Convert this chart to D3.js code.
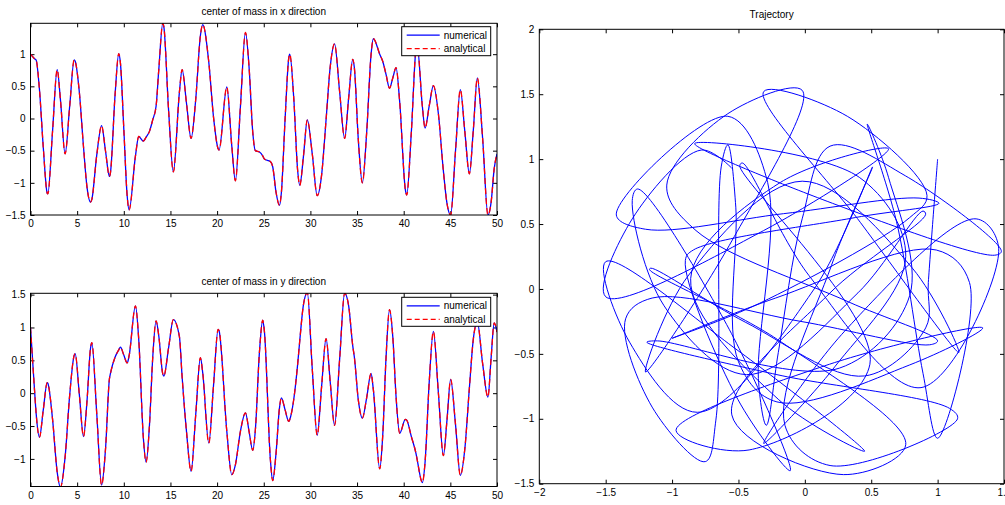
<!DOCTYPE html>
<html><head><meta charset="utf-8">
<script src="https://cdn.jsdelivr.net/npm/d3@7"></script>
<style>
html,body{margin:0;padding:0;background:#fff;}
svg{display:block;font-family:"Liberation Sans",Arial,sans-serif;}
</style></head>
<body><svg id="chart" width="1005" height="505"></svg>
<script>
// time samples
const tVals = [0,0.43,0.6,0.96,1.37,1.79,1.86,2.36,2.86,3.21,3.71,4.2,4.68,4.79,5.24,5.68,6.05,6.43,6.57,7.1,7.62,8.04,8.46,8.57,9.07,9.46,9.64,10.0,10.36,10.57,11.25,11.6,12.1,12.39,12.75,13.1,13.46,13.75,14.18,14.29,14.8,15.31,15.96,16.25,16.73,17.21,17.71,18.21,18.46,19.11,19.61,20.11,20.21,21.04,21.57,21.96,22.5,23.04,23.43,23.82,24.1,24.54,24.89,25.07,25.71,25.96,26.32,26.68,26.89,27.28,27.68,27.79,28.21,28.64,28.86,29.26,29.67,30.2,30.73,31.2,31.68,32.13,32.59,33.13,33.67,34.1,34.54,34.71,35.14,35.57,36.03,36.5,36.75,37.43,37.75,38.1,38.48,38.83,39.18,39.57,40.18,40.32,40.82,41.32,41.43,42.0,42.29,42.74,43.18,43.72,44.25,44.64,45.03,45.55,46.07,46.55,47.04,47.46,47.89,48.46,49.03,49.37,49.7,50];
// center of mass, x direction
const xVals = [1.0,0.93,0.91,0.45,-0.45,-1.16,-1.17,-0.205,0.76,0.29,-0.55,0.19,0.91,0.89,0.40,-0.44,-1.06,-1.30,-1.26,-0.57,-0.11,-0.505,-0.90,-0.84,0.38,1.01,0.86,-0.16,-1.20,-1.42,-0.58,-0.28,-0.35,-0.29,-0.20,-0.02,0.19,0.76,1.48,1.43,0.13,-0.83,0.41,0.76,0.225,-0.31,0.30,1.29,1.46,0.875,0.03,-0.47,-0.49,0.49,-0.42,-0.97,0.185,1.34,0.79,-0.21,-0.50,-0.52,-0.58,-0.63,-0.67,-0.75,-1.15,-1.35,-1.15,-0.03,0.94,1.0,0.33,-0.82,-1.04,-0.58,-0.02,-0.55,-1.2,-0.88,-0.02,0.81,1.16,0.42,-0.31,0.32,0.92,0.79,-0.34,-1.0,-0.22,0.99,1.24,1.0,0.89,0.69,0.47,0.63,0.79,0.26,-1.11,-1.19,-0.21,1.09,1.15,0.19,-0.15,0.20,0.51,0.07,-0.81,-1.32,-1.5,-0.51,0.45,-0.20,-0.86,-0.185,0.63,-0.31,-1.5,-1.3,-0.78,-0.55];
// center of mass, y direction
const yVals = [1.0,0.05,-0.3,-0.67,-0.255,0.16,0.15,-0.39,-1.20,-1.43,-0.97,-0.03,0.575,0.60,-0.03,-0.66,-0.13,0.68,0.77,-0.31,-1.40,-0.85,0.22,0.30,0.55,0.66,0.70,0.58,0.46,0.57,1.33,0.82,-0.69,-1.05,-0.49,0.54,1.10,0.87,0.29,0.26,0.69,1.12,0.86,0.25,-0.6,-1.19,-0.325,0.54,0.31,-0.76,0.105,0.97,0.95,-0.58,-1.24,-1.09,-0.58,-0.30,-0.585,-0.87,-0.56,0.63,1.11,0.94,-1.01,-1.33,-0.91,-0.23,-0.07,-0.25,-0.43,-0.40,-0.10,0.45,0.80,1.35,1.53,0.37,-0.64,0.10,0.83,0.16,-0.49,0.51,1.52,1.33,0.72,0.55,-0.11,-0.38,-0.07,0.30,0.05,-1.15,-0.65,0.52,1.27,0.86,-0.05,-0.61,-0.40,-0.41,-0.66,-0.92,-1.0,-1.36,-1.05,0.18,0.94,0.0,-0.95,-0.41,0.21,-0.47,-1.25,-0.85,0.08,0.82,1.08,0.45,-0.06,0.54,1.07,0.93];

const timeTicks = [0,5,10,15,20,25,30,35,40,45,50];
const xDirTicks = [-1.5,-1,-0.5,0,0.5,1];
const yDirTicks = [-1,-0.5,0,0.5,1,1.5];
const trajXTicks = [-2,-1.5,-1,-0.5,0,0.5,1,1.5];
const trajYTicks = [-1.5,-1,-0.5,0,0.5,1,1.5,2];
const legendLabels = ["numerical","analytical"];
const titles = ["center of mass in x direction","center of mass in y direction","Trajectory"];

const svg = d3.select("#chart");
svg.append("rect").attr("width",1005).attr("height",505).attr("fill","#fff");
const fmt = v => (v<0?"\u2212":"") + Math.abs(v);
const FS = 10;

function frame(g, x, y, xTicks, yTicks, id){
  const [x0,x1] = x.range(), [y0,y1] = y.range();
  const defs = svg.append("defs");
  defs.append("clipPath").attr("id",id).append("rect")
    .attr("x",x0).attr("y",y1).attr("width",x1-x0).attr("height",y0-y1);
  // bottom
  const ab = g.append("g").attr("transform",`translate(0,${y0})`)
    .call(d3.axisBottom(x).tickValues(xTicks).tickSizeInner(-4).tickSizeOuter(0).tickPadding(5).tickFormat(fmt));
  const at = g.append("g").attr("transform",`translate(0,${y1})`)
    .call(d3.axisTop(x).tickValues(xTicks).tickSizeInner(-4).tickSizeOuter(0).tickFormat(""));
  const al = g.append("g").attr("transform",`translate(${x0},0)`)
    .call(d3.axisLeft(y).tickValues(yTicks).tickSizeInner(-4).tickSizeOuter(0).tickPadding(5).tickFormat(fmt));
  const ar = g.append("g").attr("transform",`translate(${x1},0)`)
    .call(d3.axisRight(y).tickValues(yTicks).tickSizeInner(-4).tickSizeOuter(0).tickFormat(""));
  [ab,at,al,ar].forEach(a=>{
    a.select(".domain").remove();
    a.selectAll("text").attr("font-size",FS).attr("fill","#000").attr("font-family","Liberation Sans, Arial, sans-serif");
    a.selectAll("line").attr("stroke","#000");
  });
  return id;
}
function box(g, x, y){
  const [x0,x1] = x.range(), [y0,y1] = y.range();
  g.append("rect").attr("x",x0).attr("y",y1).attr("width",x1-x0).attr("height",y0-y1)
    .attr("fill","none").attr("stroke","#000").attr("stroke-width",1);
}
function legend(g, x, top){
  const right = x.range()[1]-6.3;
  const lx = right-89, w = 89, h = 29;
  g.append("rect").attr("x",lx).attr("y",top).attr("width",w).attr("height",h)
    .attr("fill","#fff").attr("stroke","#000").attr("stroke-width",1);
  const rows = [{c:"#0000ff",d:null,dy:8.5},{c:"#ff0000",d:"5,3",dy:22}];
  rows.forEach((r,i)=>{
    g.append("line").attr("x1",lx+5).attr("x2",lx+38).attr("y1",top+r.dy).attr("y2",top+r.dy)
      .attr("stroke",r.c).attr("stroke-width",1.2).attr("stroke-dasharray",r.d);
    g.append("text").attr("x",lx+42).attr("y",top+r.dy+3.6).attr("font-size",FS).attr("fill","#000")
      .text(legendLabels[i]);
  });
}
function timePanel(vals, yDomain, yRange, yTicks, title, id, legendTop){
  const g = svg.append("g");
  const x = d3.scaleLinear().domain([0,50]).range([30.5,497]);
  const y = d3.scaleLinear().domain(yDomain).range(yRange);
  frame(g, x, y, timeTicks, yTicks, id);
  const pts = tVals.map((t,i)=>[t, vals[i]]);
  const line = d3.line().x(d=>x(d[0])).y(d=>y(d[1])).curve(d3.curveMonotoneX);
  const lg = g.append("g").attr("clip-path",`url(#${id})`);
  lg.append("path").attr("d",line(pts)).attr("fill","none").attr("stroke","#0000ff").attr("stroke-width",1.3);
  lg.append("path").attr("d",line(pts)).attr("fill","none").attr("stroke","#ff0000").attr("stroke-width",1.3)
    .attr("stroke-dasharray","6,4");
  box(g, x, y);
  g.append("text").attr("x",(30.5+497)/2).attr("y",yRange[1]-8).attr("text-anchor","middle")
    .attr("font-size",FS).attr("fill","#000").text(title);
  legend(g, x, legendTop);
}
timePanel(xVals, [-1.5,1.48], [215,23.3], xDirTicks, titles[0], "c1", 26.7);
timePanel(yVals, [-1.42,1.52], [486.5,293.3], yDirTicks, titles[1], "c2", 297.3);

// trajectory
(function(){
  const g = svg.append("g");
  const x = d3.scaleLinear().domain([-2,1.5]).range([539.3,1004]);
  const y = d3.scaleLinear().domain([-1.5,2]).range([483.7,29.3]);
  frame(g, x, y, trajXTicks, trajYTicks, "c3");
  const pts = tVals.map((t,i)=>[xVals[i], yVals[i]]);
  const line = d3.line().x(d=>x(d[0])).y(d=>y(d[1])).curve(d3.curveCatmullRom.alpha(0.5));
  g.append("g").attr("clip-path","url(#c3)").append("path").attr("d",line(pts))
    .attr("fill","none").attr("stroke","#0000ff").attr("stroke-width",1);
  box(g, x, y);
  g.append("text").attr("x",(539.3+1004)/2).attr("y",18).attr("text-anchor","middle")
    .attr("font-size",FS).attr("fill","#000").text(titles[2]);
})();
</script></body></html>
